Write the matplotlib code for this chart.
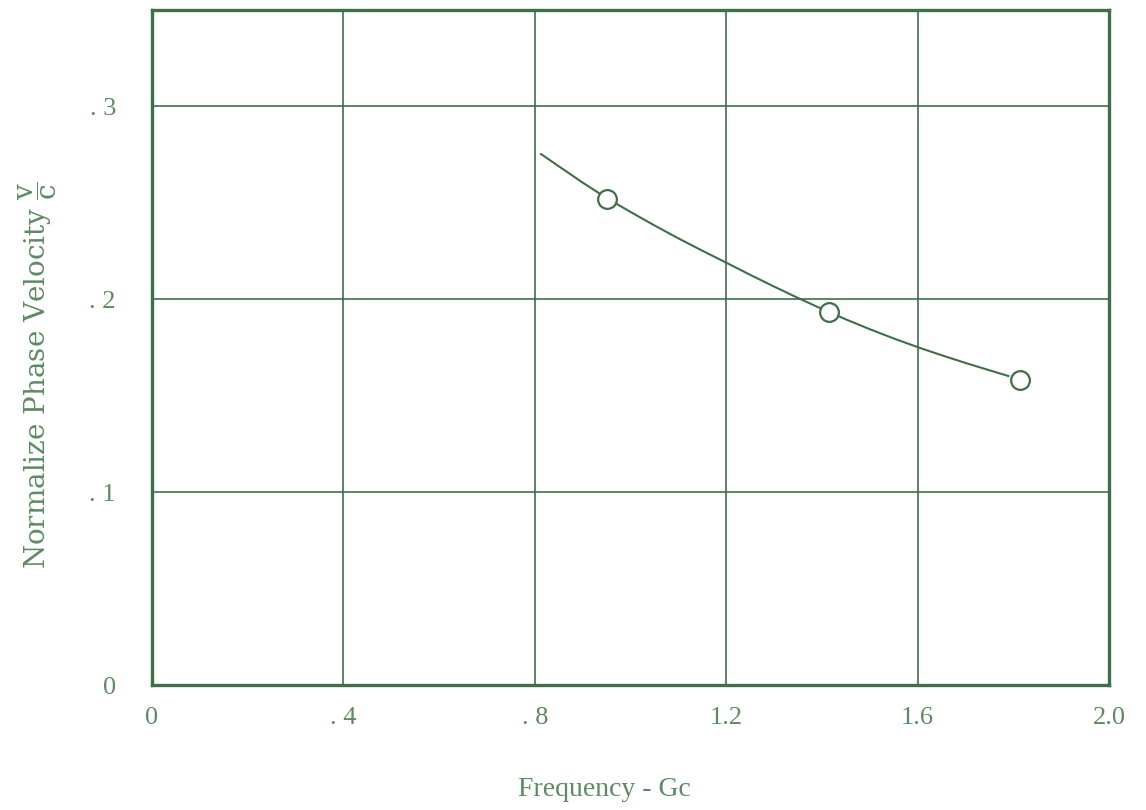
import matplotlib
matplotlib.use("Agg")
import matplotlib.pyplot as plt

plt.rcParams["mathtext.fontset"] = "dejavuserif"

# measured data points
freq_pts = [0.951, 1.414, 1.813]
vel_pts = [0.252, 0.1934, 0.158]

# faired curve
curve_x = [0.813, 0.85, 0.9, 0.95, 1.0, 1.05, 1.1, 1.15, 1.2, 1.25, 1.3, 1.35, 1.4,
           1.45, 1.5, 1.55, 1.6, 1.65, 1.7, 1.75, 1.79]
curve_y = [0.2753, 0.2690, 0.2605, 0.2525, 0.2453, 0.2383, 0.2316, 0.2252, 0.2190,
           0.2127, 0.2066, 0.2007, 0.1950, 0.1896, 0.1845, 0.1797, 0.1752, 0.1710,
           0.1670, 0.1632, 0.1602]

x_ticks = [0, 0.4, 0.8, 1.2, 1.6, 2.0]
x_labels = ["0", ". 4", ". 8", "1.2", "1.6", "2.0"]
y_ticks = [0, 0.1, 0.2, 0.3]
y_labels = ["0", ". 1", ". 2", ". 3"]

line_c = "#3f6e48"
text_c = "#5d8a63"

fig = plt.figure(figsize=(11.46, 8.10), dpi=100)
ax = fig.add_axes([152/1146, 1-685/810, (1109-152)/1146, (685-10)/810])
ax.set_xlim(0, 2.0)
ax.set_ylim(0, 0.35)

ax.set_xticks(x_ticks)
ax.set_xticklabels(x_labels)
ax.set_yticks(y_ticks)
ax.set_yticklabels(y_labels)
ax.tick_params(length=0, labelsize=19, labelcolor=text_c)
for lab in ax.get_xticklabels() + ax.get_yticklabels():
    lab.set_family("Liberation Serif")
ax.tick_params(axis="y", pad=26)
ax.tick_params(axis="x", pad=16)

ax.grid(True, color=line_c, linewidth=1.2)
ax.set_axisbelow(True)
for s in ax.spines.values():
    s.set_color(line_c)
    s.set_linewidth(2.4)

ax.plot(curve_x, curve_y, color=line_c, linewidth=1.5, zorder=3)
ax.plot(freq_pts, vel_pts, linestyle="none", marker="o", markersize=13.5,
        markerfacecolor="white", markeredgecolor=line_c, markeredgewidth=1.6, zorder=4)

fig.text(604/1146, 1-790/810, "Frequency - Gc", ha="center", va="center",
         fontsize=20, color=text_c, family="Liberation Serif")
fig.text(38/1146, 1-375/810, r"Normalize Phase Velocity $\dfrac{\mathrm{v}}{\mathrm{c}}$",
         ha="center", va="center", rotation=90, fontsize=20, color=text_c,
         family="DejaVu Serif")

fig.savefig("out.png", dpi=100)
